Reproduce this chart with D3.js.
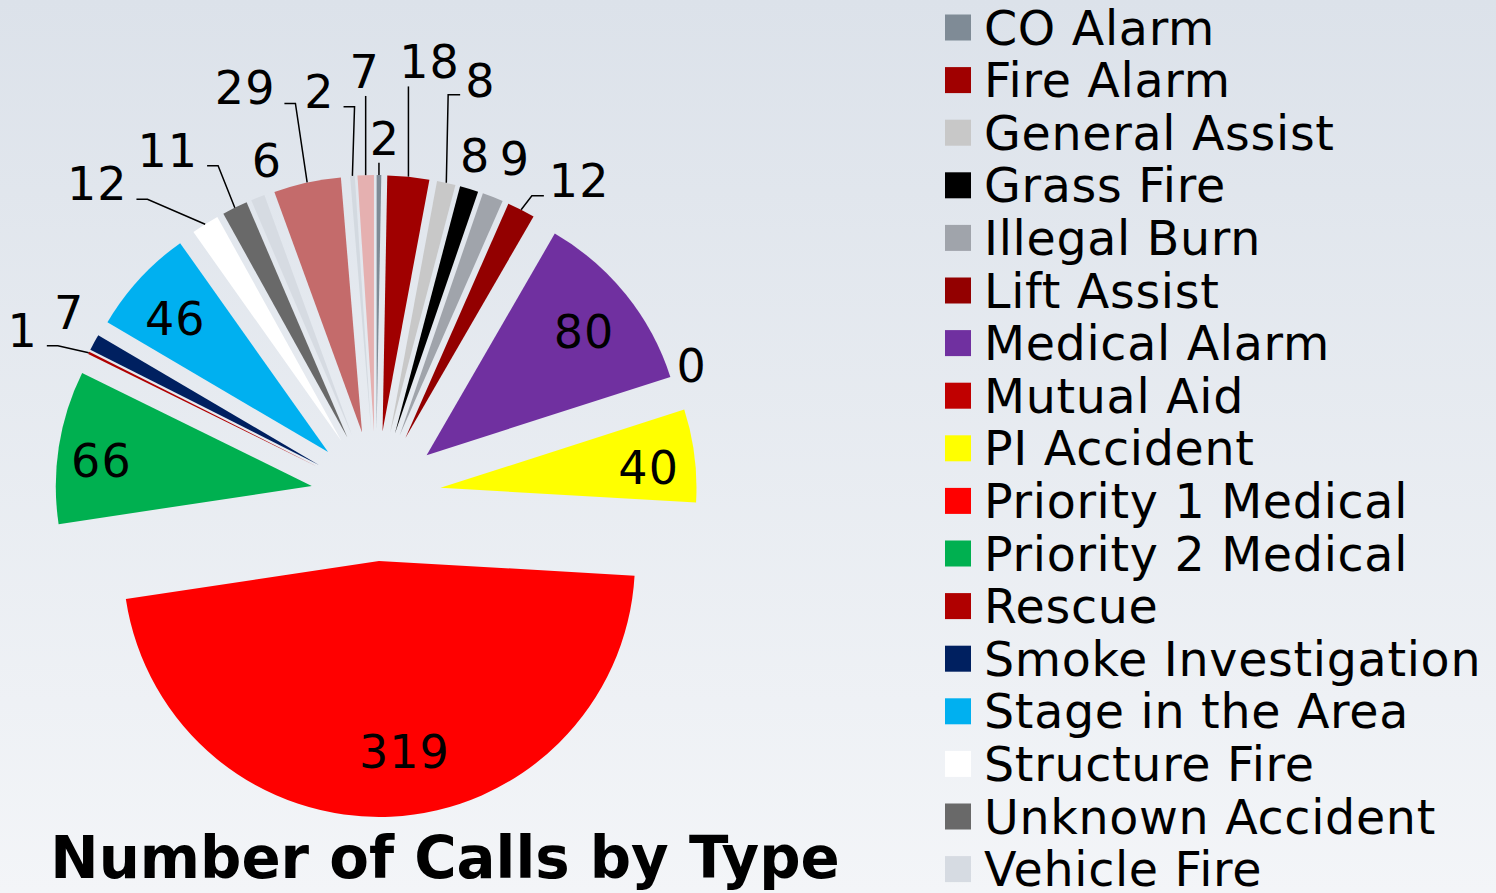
<!DOCTYPE html>
<html>
<head>
<meta charset="utf-8">
<script src="https://cdnjs.cloudflare.com/ajax/libs/d3/7.8.5/d3.min.js"></script>
<style>
  html, body { margin: 0; padding: 0; overflow: hidden; }
  body { width: 1496px; height: 893px; }
  text { font-family: "DejaVu Sans", Verdana, sans-serif; }
</style>
</head>
<body>
<div id="chart"></div>
<script>
// call types (alphabetical, as in the legend) and counts
const categories = ["CO Alarm", "Fire Alarm", "General Assist", "Grass Fire", "Illegal Burn",
  "Lift Assist", "Medical Alarm", "Mutual Aid", "PI Accident", "Priority 1 Medical",
  "Priority 2 Medical", "Rescue", "Smoke Investigation", "Stage in the Area", "Structure Fire",
  "Unknown Accident", "Vehicle Fire", "Vehicle Lockout", "Water Problem", "Wires Down"];
const calls = [2, 18, 8, 8, 9, 12, 80, 0, 40, 319, 66, 1, 7, 46, 12, 11, 6, 29, 2, 7];
const colors = ["#7f8b96", "#a00000", "#c8c8c8", "#000000", "#a0a4ab",
  "#930000", "#7030a0", "#c00000", "#ffff00", "#ff0000",
  "#00b050", "#b00000", "#002060", "#00b0f0", "#ffffff",
  "#696969", "#d6dbe2", "#c46b6b", "#d3d9e0", "#e5b0b0"];
const title = "Number of Calls by Type";

const width = 1496, height = 893;
const cx = 376, cy = 496;
const radius = 256;
const explode = 65;
const labelSize = 46;

// where the outside data labels sit, relative to the middle of each slice's outer edge
const outside = {
  0: {dx: 6, dy: -37, leader: "v"},
  1: {dx: 21, dy: -115, leader: "v"},
  2: {dx: 34, dy: -103, leader: "r"},
  3: {dx: 6, dy: -34},
  4: {dx: 22, dy: -39},
  5: {dx: 58, dy: -29, leader: "r"},
  7: {dx: 10, dy: -33},
  11: {dx: -66, dy: -23, leader: "l"},
  12: {dx: -25, dy: -30},
  14: {dx: -108, dy: -41, leader: "l"},
  15: {dx: -67, dy: -58, leader: "l"},
  16: {dx: 9, dy: -37},
  17: {dx: -62, dy: -95, leader: "l"},
  18: {dx: -33, dy: -85, leader: "l"},
  19: {dx: -1, dy: -104, leader: "v"}
};
const insideNudge = {6: [-2, 5], 8: [5, 5], 9: [16, -14], 10: [-8, 6], 13: [-2, 5]};

const data = categories.map(function(c, i) {
  return {name: c, value: calls[i], color: colors[i], i: i};
});

var svg = d3.select("#chart").append("svg")
  .attr("width", width).attr("height", height);

var grad = svg.append("defs").append("linearGradient")
  .attr("id", "bg").attr("x1", 0).attr("y1", 0).attr("x2", 0).attr("y2", 1);
grad.append("stop").attr("offset", "0%").attr("stop-color", "#dce2ea");
grad.append("stop").attr("offset", "100%").attr("stop-color", "#f3f5f8");
svg.append("rect").attr("width", width).attr("height", height).attr("fill", "url(#bg)");

var pie = d3.pie().sort(null).value(function(d) { return d.value; });
var arc = d3.arc().innerRadius(0).outerRadius(radius);
var arcs = pie(data);

function mid(a) { return (a.startAngle + a.endAngle) / 2; }
function apex(a) {
  var m = mid(a);
  return [cx + explode * Math.sin(m), cy - explode * Math.cos(m)];
}
function rim(a) {
  var m = mid(a), p = apex(a);
  return [p[0] + radius * Math.sin(m), p[1] - radius * Math.cos(m)];
}

var slices = svg.append("g").selectAll("g").data(arcs).enter().append("g")
  .attr("transform", function(a) { var p = apex(a); return "translate(" + p[0] + "," + p[1] + ")"; });
slices.append("path").attr("d", arc).attr("fill", function(a) { return a.data.color; });

var labels = svg.append("g");
arcs.forEach(function(a) {
  var i = a.data.i;
  var m = mid(a);
  var lx, ly;
  var o = outside[i];
  if (o) {
    var r = rim(a);
    lx = r[0] + o.dx; ly = r[1] + o.dy;
  } else {
    var p = apex(a);
    var n = insideNudge[i] || [0, 0];
    lx = p[0] + radius * 0.8 * Math.sin(m) + n[0];
    ly = p[1] - radius * 0.8 * Math.cos(m) + n[1];
  }
  var t = labels.append("text")
    .attr("x", lx).attr("y", ly + labelSize * 0.365)
    .attr("text-anchor", "middle")
    .attr("font-size", labelSize)
    .attr("letter-spacing", 1)
    .attr("fill", "#000")
    .text(a.data.value);
  if (o && o.leader) {
    var w = t.node().getComputedTextLength();
    var r0 = rim(a);
    var pts;
    if (o.leader === "v") {
      pts = [r0, [r0[0], ly + labelSize * 0.365 + 8]];
    } else if (o.leader === "r") {
      var ex = lx - w / 2 - 5, ey = ly + 15;
      pts = [r0, [ex - 12, ey], [ex, ey]];
    } else {
      var ex2 = lx + w / 2 + 9, ey2 = ly + 16;
      pts = [r0, [ex2 + 11, ey2], [ex2, ey2]];
    }
    labels.append("path")
      .attr("d", d3.line()(pts))
      .attr("fill", "none").attr("stroke", "#000").attr("stroke-width", 1.5);
  }
});

// legend (runs past the bottom edge, as in the original)
var legend = svg.append("g").selectAll("g").data(data).enter().append("g")
  .attr("transform", function(d, i) { return "translate(945," + (27.5 + i * 52.6) + ")"; });
legend.append("rect").attr("x", 0).attr("y", -13).attr("width", 26).attr("height", 26)
  .attr("fill", function(d) { return d.color; });
legend.append("text").attr("x", 39).attr("y", 17)
  .attr("font-size", 47.5).attr("letter-spacing", 0.7).attr("fill", "#000")
  .text(function(d) { return d.name; });

svg.append("text")
  .attr("x", 445).attr("y", 878)
  .attr("text-anchor", "middle")
  .attr("font-size", 57.8).attr("font-weight", "bold")
  .attr("fill", "#000")
  .text(title);
</script>
</body>
</html>
